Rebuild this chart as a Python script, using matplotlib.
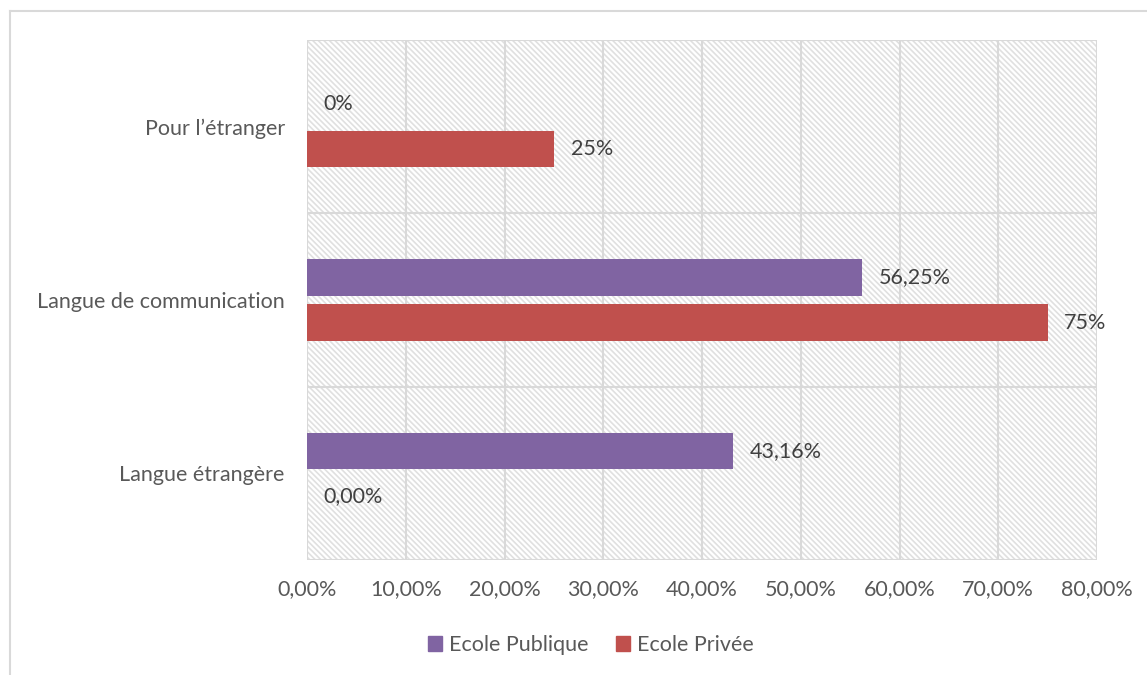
import numpy as np
import matplotlib.pyplot as plt
from matplotlib.patches import Rectangle, Patch
from matplotlib.lines import Line2D

plt.rcParams['font.family'] = ['Lato', 'DejaVu Sans']
plt.rcParams['hatch.color'] = '#e0e0e0'
plt.rcParams['hatch.linewidth'] = 1.2

categories = ['Langue étrangère', 'Langue de communication', 'Pour l\u2019étranger']
publique = [43.16, 56.25, 0.0]
privee = [0.0, 75.0, 25.0]
publique_labels = ['43,16%', '56,25%', '0%']
privee_labels = ['0,00%', '75%', '25%']
xticks = [0, 10, 20, 30, 40, 50, 60, 70, 80]
xtick_labels = ['0,00%', '10,00%', '20,00%', '30,00%', '40,00%', '50,00%',
                '60,00%', '70,00%', '80,00%']

col_pub = '#8064a2'
col_priv = '#c0504d'
grid_col = '#d9d9d9'
txt_col = '#595959'
fs = 15.5

fig = plt.figure(figsize=(11.47, 6.75), dpi=100)
ax = fig.add_axes([307 / 1147, 1 - 560 / 675, 790 / 1147, 520 / 675])

# hatched plot background
ax.add_patch(Rectangle((0, 0), 1, 1, transform=ax.transAxes, facecolor='white',
                       edgecolor='#e0e0e0', hatch='\\' * 6, linewidth=0, zorder=0))

y = np.arange(len(categories))
off = 0.13
h = 0.21
ax.barh(y + off, publique, height=h, color=col_pub, zorder=3)
ax.barh(y - off, privee, height=h, color=col_priv, zorder=3)

for yi, v, lab in zip(y + off, publique, publique_labels):
    ax.annotate(lab, (v, yi), xytext=(12, 0), textcoords='offset points',
                va='center', ha='left', fontsize=fs, color='#404040', zorder=4)
for yi, v, lab in zip(y - off, privee, privee_labels):
    ax.annotate(lab, (v, yi), xytext=(12, 0), textcoords='offset points',
                va='center', ha='left', fontsize=fs, color='#404040', zorder=4)

ax.set_xlim(0, 80)
ax.set_ylim(-0.5, 2.5)
for xv in xticks:
    ax.axvline(xv, color=grid_col, lw=1.5, zorder=1)
for yv in [-0.5, 0.5, 1.5, 2.5]:
    ax.axhline(yv, color=grid_col, lw=1.5, zorder=1)

ax.set_xticks(xticks)
ax.set_xticklabels(xtick_labels)
ax.set_yticks(y)
ax.set_yticklabels(categories)
ax.tick_params(axis='both', length=0, labelsize=fs, labelcolor=txt_col)
ax.tick_params(axis='x', pad=14)
ax.tick_params(axis='y', pad=16)
for s in ax.spines.values():
    s.set_visible(False)

handles = [Patch(color=col_pub, label='Ecole Publique'),
           Patch(color=col_priv, label='Ecole Privée')]
fig.legend(handles=handles, loc='center', bbox_to_anchor=(591 / 1147, 1 - 645 / 675),
           ncol=2, frameon=False, fontsize=fs, labelcolor=txt_col,
           handlelength=0.65, handleheight=0.65, handletextpad=0.3, columnspacing=1.3)

# chart frame
fig.add_artist(Line2D([10 / 1147, 10 / 1147], [0, 1 - 11 / 675], color=grid_col, lw=1.5))
fig.add_artist(Line2D([10 / 1147, 1], [1 - 11 / 675, 1 - 11 / 675], color=grid_col, lw=1.5))

fig.savefig('out.png', dpi=100)
